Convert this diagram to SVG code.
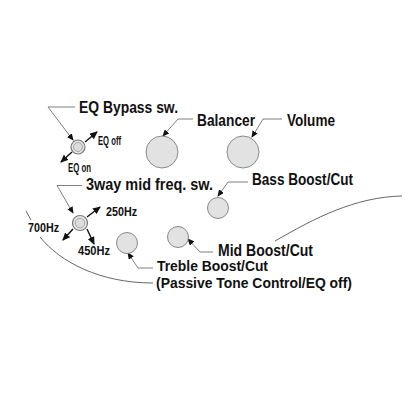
<svg xmlns="http://www.w3.org/2000/svg" width="416" height="416" viewBox="0 0 416 416">
<style>
.lbl{font-family:"Liberation Sans",Arial,sans-serif;font-weight:bold;font-size:16px;fill:#111}
.lbl2{font-family:"Liberation Sans",Arial,sans-serif;font-weight:bold;font-size:14.5px;fill:#111}
.sm{font-family:"Liberation Sans",Arial,sans-serif;font-weight:bold;font-size:13px;fill:#111}
.knob{fill:#e2e2e2;stroke:#8a8a8a;stroke-width:1}
.sw{fill:#e6e6e6;stroke:#7a7a7a;stroke-width:1.2}
.swi{fill:#dcdcdc;stroke:#9a9a9a;stroke-width:0.8}
.lead{fill:none;stroke:#707070;stroke-width:0.9;marker-end:url(#ah)}
.dir{fill:none;stroke:#111;stroke-width:1.4;marker-end:url(#ah2)}
.body{fill:none;stroke:#555;stroke-width:0.9}
</style>
<defs>
<marker id="ah" markerWidth="7" markerHeight="6" refX="6" refY="3" orient="auto" markerUnits="userSpaceOnUse">
<path d="M0,0 L7,3 L0,6 Z" fill="#111"/>
</marker>
<marker id="ah2" markerWidth="8" markerHeight="7" refX="7" refY="3.5" orient="auto" markerUnits="userSpaceOnUse">
<path d="M0,0 L8,3.5 L0,7 Z" fill="#111"/>
</marker>
</defs>
<rect width="416" height="416" fill="#fff"/>
<g id="body">
<path class="body" d="M26,211 L31,220"/>
<path class="body" d="M40,237 C60,262 100,283 153,283"/>
<path class="body" d="M275,241 C315,218 355,197 402,196"/>
</g>
<g id="connectors">
<polyline class="lead" points="75,107 48,107 73,140"/>
<polyline class="lead" points="193,119 178,119 163,136"/>
<polyline class="lead" points="282,119 263,119 252,137"/>
<polyline class="lead" points="82,185.5 57,185.5 73,213"/>
<polyline class="lead" points="248,182 228,182 218,196"/>
<polyline class="lead" points="213,252 200,252 188,239"/>
<polyline class="lead" points="153,268 138,268 128,253"/>
<line class="dir" x1="85" y1="142" x2="97" y2="132"/>
<line class="dir" x1="72" y1="152" x2="61" y2="162"/>
<line class="dir" x1="87" y1="217" x2="100" y2="207"/>
<line class="dir" x1="73" y1="229" x2="63" y2="240"/>
<line class="dir" x1="87" y1="229" x2="94" y2="244"/>
</g>
<g id="eq-bypass">
<circle class="sw" cx="78" cy="147" r="7"/>
<circle class="swi" cx="78" cy="147" r="4.5"/>
<text class="lbl" x="79" y="113" textLength="99" lengthAdjust="spacingAndGlyphs">EQ Bypass sw.</text>
<text class="sm" x="98" y="145" textLength="23" lengthAdjust="spacingAndGlyphs">EQ off</text>
<text class="sm" x="68" y="172" textLength="23" lengthAdjust="spacingAndGlyphs">EQ on</text>
</g>
<g id="balancer">
<circle class="knob" cx="162" cy="152" r="16"/>
<text class="lbl" x="197" y="125.5" textLength="58" lengthAdjust="spacingAndGlyphs">Balancer</text>
</g>
<g id="volume">
<circle class="knob" cx="243" cy="152" r="16"/>
<text class="lbl" x="287" y="125.5" textLength="48" lengthAdjust="spacingAndGlyphs">Volume</text>
</g>
<g id="mid-freq-sw">
<circle class="sw" cx="80" cy="223" r="7.5"/>
<circle class="swi" cx="80" cy="223" r="4.8"/>
<text class="lbl" x="86" y="190" textLength="127" lengthAdjust="spacingAndGlyphs">3way mid freq. sw.</text>
<text class="sm" x="106" y="216" textLength="31" lengthAdjust="spacingAndGlyphs">250Hz</text>
<text class="sm" x="28" y="232" textLength="31" lengthAdjust="spacingAndGlyphs">700Hz</text>
<text class="sm" x="78" y="255" textLength="32" lengthAdjust="spacingAndGlyphs">450Hz</text>
</g>
<g id="bass">
<circle class="knob" cx="218" cy="208" r="10.5"/>
<text class="lbl" x="252" y="185" textLength="101" lengthAdjust="spacingAndGlyphs">Bass Boost/Cut</text>
</g>
<g id="mid">
<circle class="knob" cx="178" cy="237" r="10.5"/>
<text class="lbl" x="218" y="255.5" textLength="95" lengthAdjust="spacingAndGlyphs">Mid Boost/Cut</text>
</g>
<g id="treble">
<circle class="knob" cx="127" cy="243" r="10.5"/>
<text class="lbl2" x="157" y="271" textLength="111" lengthAdjust="spacingAndGlyphs">Treble Boost/Cut</text>
<text class="lbl2" x="156" y="287.5" textLength="196" lengthAdjust="spacingAndGlyphs">(Passive Tone Control/EQ off)</text>
</g>
</svg>
